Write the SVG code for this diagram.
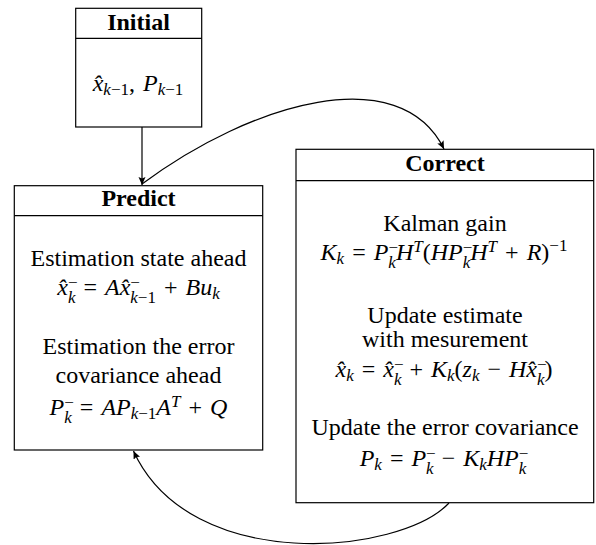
<svg xmlns="http://www.w3.org/2000/svg" width="596" height="545" viewBox="0 0 596 545">
<style>
.box{fill:#fff;stroke:#000;stroke-width:1.2}
.t{font-family:"Liberation Serif","Times New Roman",serif;font-size:24px;fill:#000;text-anchor:middle}
.m{word-spacing:2px}
.h{font-weight:bold}
.i{font-style:italic}
.s{font-size:17px}
.c{fill:none;stroke:#000;stroke-width:1.2}
</style>
<defs>
<marker id="ah" markerUnits="userSpaceOnUse" markerWidth="10" markerHeight="10" refX="8" refY="3.5" orient="auto">
<path d="M0,0 L8,3.5 L0,7 L1.5,3.5 z" fill="#000"/>
</marker>
</defs>
<rect width="596" height="545" fill="#fff"/>
<g id="initial">
<rect class="box" x="75.7" y="8.3" width="126" height="118.7"/>
<line class="c" x1="75.7" y1="38.3" x2="201.7" y2="38.3"/>
<text class="t h" x="138.5" y="29.5">Initial</text>
<text class="t m" x="138" y="91"><tspan class="i">x&#x302;</tspan><tspan class="s" dy="4"><tspan class="i">k</tspan>−1</tspan><tspan dy="-4">, </tspan><tspan class="i">P</tspan><tspan class="s" dy="4"><tspan class="i">k</tspan>−1</tspan></text>
</g>
<g id="predict">
<rect class="box" x="14.3" y="185.7" width="248.4" height="264.3"/>
<line class="c" x1="14.3" y1="215.7" x2="262.7" y2="215.7"/>
<text class="t h" x="138.5" y="206">Predict</text>
<text class="t" x="138.5" y="266">Estimation state ahead</text>
<text class="t m" x="138.5" y="295"><tspan class="i">x&#x302;</tspan><tspan class="s" dy="-7">−</tspan><tspan class="s i" dx="-9.6" dy="15">k</tspan><tspan dy="-8"> = </tspan><tspan class="i">Ax&#x302;</tspan><tspan class="s" dy="-7">−</tspan><tspan class="s" dx="-9.6" dy="15"><tspan class="i">k</tspan>−1</tspan><tspan dy="-8"> + </tspan><tspan class="i">Bu</tspan><tspan class="s i" dy="4">k</tspan></text>
<text class="t" x="138.5" y="354">Estimation the error</text>
<text class="t" x="138.5" y="382.7">covariance ahead</text>
<text class="t m" x="138.5" y="415"><tspan class="i">P</tspan><tspan class="s" dy="-7">−</tspan><tspan class="s i" dx="-9.6" dy="15">k</tspan><tspan dy="-8"> = </tspan><tspan class="i">AP</tspan><tspan class="s" dy="4"><tspan class="i">k</tspan>−1</tspan><tspan class="i" dy="-4">A</tspan><tspan class="s i" dy="-8">T</tspan><tspan dy="8"> + </tspan><tspan class="i">Q</tspan></text>
</g>
<g id="correct">
<rect class="box" x="296" y="149.3" width="297.7" height="353.4"/>
<line class="c" x1="296" y1="180.7" x2="593.7" y2="180.7"/>
<text class="t h" x="445" y="170.7">Correct</text>
<text class="t" x="445" y="230.7">Kalman gain</text>
<text class="t m" x="444" y="260"><tspan class="i">K</tspan><tspan class="s i" dy="4">k</tspan><tspan dy="-4"> = </tspan><tspan class="i">P</tspan><tspan class="s" dy="-7">−</tspan><tspan class="s i" dx="-9.6" dy="15">k</tspan><tspan class="i" dy="-8">H</tspan><tspan class="s i" dy="-8">T</tspan><tspan dy="8">(</tspan><tspan class="i">HP</tspan><tspan class="s" dy="-7">−</tspan><tspan class="s i" dx="-9.6" dy="15">k</tspan><tspan class="i" dy="-8">H</tspan><tspan class="s i" dy="-8">T</tspan><tspan dy="8"> + </tspan><tspan class="i">R</tspan><tspan>)</tspan><tspan class="s" dy="-9">−1</tspan></text>
<text class="t" x="445" y="322.7">Update estimate</text>
<text class="t" x="445" y="347.3">with mesurement</text>
<text class="t m" x="444" y="377.3"><tspan class="i">x&#x302;</tspan><tspan class="s i" dy="4">k</tspan><tspan dy="-4"> = </tspan><tspan class="i">x&#x302;</tspan><tspan class="s" dy="-7">−</tspan><tspan class="s i" dx="-9.6" dy="15">k</tspan><tspan dy="-8"> + </tspan><tspan class="i">K</tspan><tspan class="s i" dy="4">k</tspan><tspan dy="-4">(</tspan><tspan class="i">z</tspan><tspan class="s i" dy="4">k</tspan><tspan dy="-4"> − </tspan><tspan class="i">Hx&#x302;</tspan><tspan class="s" dy="-7">−</tspan><tspan class="s i" dx="-9.6" dy="15">k</tspan><tspan dy="-8">)</tspan></text>
<text class="t" x="445" y="435">Update the error covariance</text>
<text class="t m" x="444" y="466"><tspan class="i">P</tspan><tspan class="s i" dy="4">k</tspan><tspan dy="-4"> = </tspan><tspan class="i">P</tspan><tspan class="s" dy="-7">−</tspan><tspan class="s i" dx="-9.6" dy="15">k</tspan><tspan dy="-8"> − </tspan><tspan class="i">K</tspan><tspan class="s i" dy="4">k</tspan><tspan class="i" dy="-4">HP</tspan><tspan class="s" dy="-7">−</tspan><tspan class="s i" dx="-9.6" dy="15">k</tspan></text>
</g>
<g id="connectors">
<line class="c" x1="142" y1="127" x2="142" y2="185" marker-end="url(#ah)"/>
<path class="c" d="M142,184 C252,102 400,60 444,149" marker-end="url(#ah)"/>
<path class="c" d="M449,503 C400,555 190,575 133.5,451" marker-end="url(#ah)"/>
</g>
</svg>
